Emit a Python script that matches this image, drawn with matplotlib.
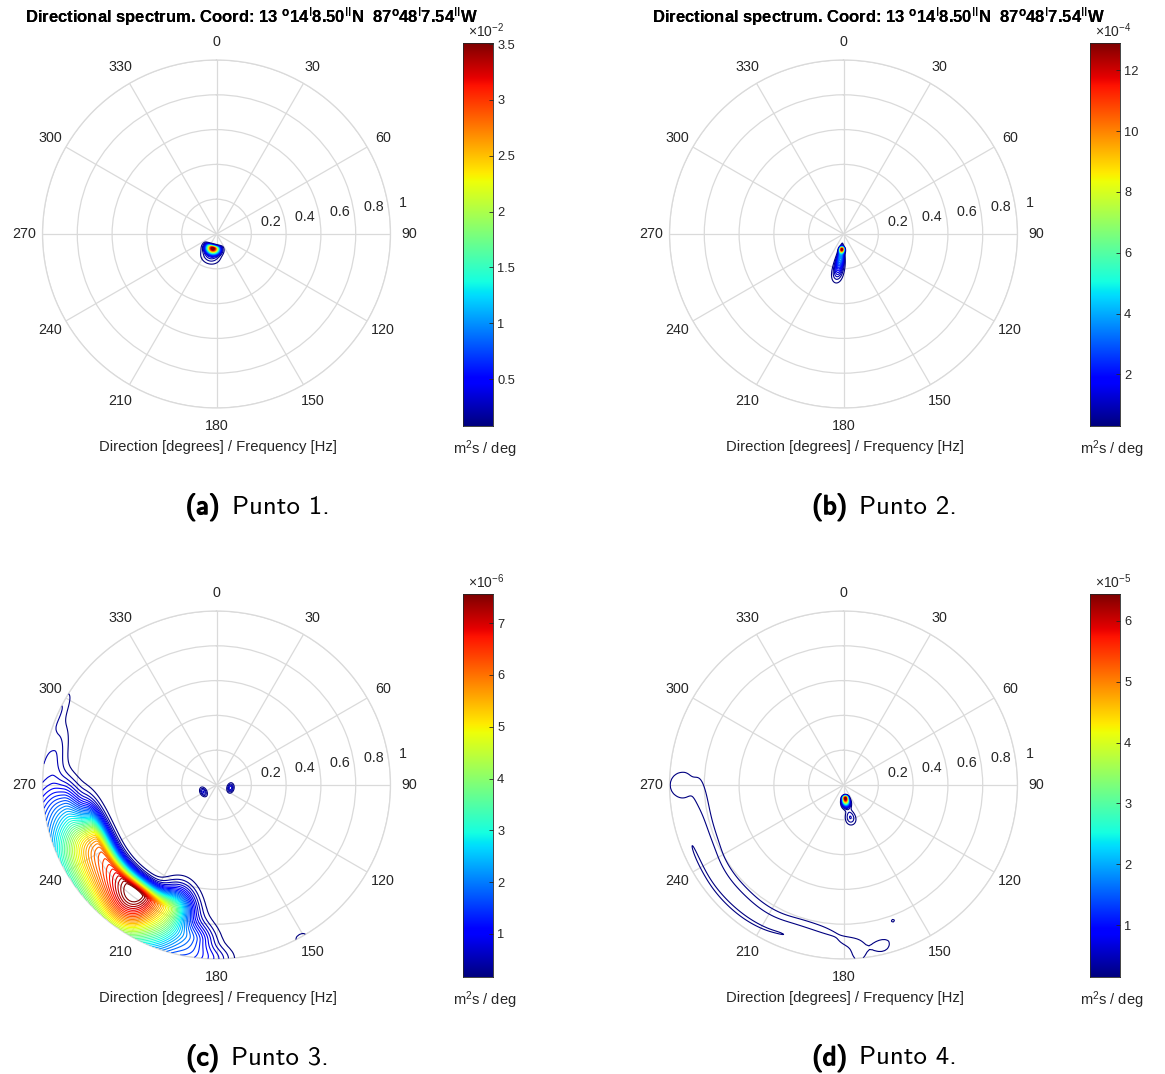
import os
import numpy as np
import matplotlib
matplotlib.use('Agg')
import matplotlib.pyplot as plt
from matplotlib.font_manager import FontProperties
import matplotlib.patheffects as pe
from matplotlib.colors import Normalize

plt.rcParams['font.family'] = ['Liberation Sans', 'DejaVu Sans']
plt.rcParams['mathtext.fontset'] = 'custom'
plt.rcParams['mathtext.rm'] = 'Liberation Sans'
plt.rcParams['mathtext.it'] = 'Liberation Sans:italic'
plt.rcParams['mathtext.bf'] = 'Liberation Sans:bold'

# ---------------- texts ----------------
TITLE = (r"Directional spectrum. Coord: 13 $^{\mathbf{o}}$14$^{\mathrm{I}}$8.50$^{\mathrm{II}}$N  "
         r"87$^{\mathbf{o}}$48$^{\mathrm{I}}$7.54$^{\mathrm{II}}$W")
XLABEL = "Direction [degrees] / Frequency [Hz]"
CBAR_LABEL = r"m$^2$s / deg"
PANEL_TAGS = ["(a)", "(b)", "(c)", "(d)"]
PANEL_NAMES = ["Punto 1.", "Punto 2.", "Punto 3.", "Punto 4."]

DIR_TICKS = [0, 30, 60, 90, 120, 150, 180, 210, 240, 270, 300, 330]
FREQ_TICKS = [0.2, 0.4, 0.6, 0.8, 1.0]
FREQ_TICK_LABELS = ["0.2", "0.4", "0.6", "0.8", "1"]

# colour bar ranges (in units of 10^exp), ticks and exponents
CBAR_MIN = [0.08, 0.3, 0.17, 0.15]
CBAR_MAX = [3.51, 12.9, 7.56, 6.44]
CBAR_EXP = [-2, -4, -6, -5]
CBAR_TICKS_1 = [0.5, 1, 1.5, 2, 2.5, 3, 3.5]
CBAR_TICKS_2 = [2, 4, 6, 8, 10, 12]
CBAR_TICKS_3 = [1, 2, 3, 4, 5, 6, 7]
CBAR_TICKS_4 = [1, 2, 3, 4, 5, 6]
CBAR_TICKLABELS_1 = ["0.5", "1", "1.5", "2", "2.5", "3", "3.5"]
CBAR_TICKLABELS_2 = ["2", "4", "6", "8", "10", "12"]
CBAR_TICKLABELS_3 = ["1", "2", "3", "4", "5", "6", "7"]
CBAR_TICKLABELS_4 = ["1", "2", "3", "4", "5", "6"]
N_LEVELS = 45

# ---------------- spectral peaks ----------------
# direction [deg], frequency [Hz], energy, direction spread, freq spread below, freq spread above
P1_DIR = [194, 195]
P1_FREQ = [0.085, 0.12]
P1_AMP = [3.5, 0.3]
P1_DSPR = [15, 16]
P1_FLOW = [0.009, 0.03]
P1_FHIGH = [0.018, 0.035]

P2_DIR = [186, 187, 189]
P2_FREQ = [0.088, 0.12, 0.2]
P2_AMP = [11.0, 3.5, 1.2]
P2_DSPR = [5, 5, 5]
P2_FLOW = [0.008, 0.03, 0.05]
P2_FHIGH = [0.012, 0.05, 0.05]

P3_DIR = [246, 230, 214, 199, 262, 280, 296, 188, 180, 242, 102, 151]
P3_FREQ = [0.76, 0.77, 0.77, 0.74, 0.88, 0.95, 1.0, 0.90, 1.0, 0.085, 0.082, 1.0]
P3_AMP = [4.6, 4.5, 6.6, 2.5, 1.2, 0.5, 0.3, 1.2, 0.45, 0.7, 0.8, 0.25]
P3_DSPR = [9, 9, 9, 6, 7, 8, 5, 5, 4, 12, 12, 2]
P3_FLOW = [0.05, 0.05, 0.05, 0.08, 0.06, 0.05, 0.03, 0.07, 0.05, 0.012, 0.012, 0.02]
P3_FHIGH = [0.2, 0.2, 0.22, 0.2, 0.15, 0.1, 0.1, 0.2, 0.1, 0.012, 0.012, 0.02]

P4_DIR = [172, 168, 266, 262, 254, 246, 238, 230, 222, 214, 206, 198, 190, 184, 179, 270, 175,
          166, 248, 240, 232, 224, 216, 208, 201, 160]
P4_FREQ = [0.076, 0.19, 0.83, 0.80, 0.80, 0.80, 0.82, 0.83, 0.83, 0.84, 0.84, 0.82, 0.83, 0.86,
           0.90, 0.92, 0.96, 0.94, 0.935, 0.94, 0.95, 0.95, 0.95, 0.94, 0.92, 0.83]
P4_AMP = [6.7, 0.45, 0.11, 0.105, 0.105, 0.105, 0.105, 0.105, 0.105, 0.105, 0.105, 0.105, 0.105,
          0.105, 0.11, 0.2, 0.17, 0.19, 0.11, 0.1, 0.1, 0.1, 0.1, 0.1, 0.12, 0.17]
P4_DSPR = [7, 6, 6, 6, 6, 6, 6, 6, 6, 6, 6, 6, 6, 6, 5, 6, 4, 3, 6, 6, 6, 6, 6, 6, 6, 1.5]
P4_FLOW = [0.008, 0.03, 0.025, 0.025, 0.025, 0.025, 0.025, 0.025, 0.025, 0.025, 0.025, 0.025,
           0.025, 0.025, 0.025, 0.07, 0.05, 0.03, 0.015, 0.015, 0.015, 0.015, 0.015, 0.015, 0.015,
           0.015]
P4_FHIGH = [0.025, 0.03, 0.025, 0.025, 0.025, 0.025, 0.025, 0.025, 0.025, 0.025, 0.025, 0.025,
            0.025, 0.025, 0.025, 0.1, 0.1, 0.05, 0.015, 0.015, 0.015, 0.015, 0.015, 0.015, 0.015,
            0.015]

PANELS = [
    (P1_DIR, P1_FREQ, P1_AMP, P1_DSPR, P1_FLOW, P1_FHIGH),
    (P2_DIR, P2_FREQ, P2_AMP, P2_DSPR, P2_FLOW, P2_FHIGH),
    (P3_DIR, P3_FREQ, P3_AMP, P3_DSPR, P3_FLOW, P3_FHIGH),
    (P4_DIR, P4_FREQ, P4_AMP, P4_DSPR, P4_FLOW, P4_FHIGH),
]
CBAR_TICKS = [CBAR_TICKS_1, CBAR_TICKS_2, CBAR_TICKS_3, CBAR_TICKS_4]
CBAR_TICKLABELS = [CBAR_TICKLABELS_1, CBAR_TICKLABELS_2, CBAR_TICKLABELS_3, CBAR_TICKLABELS_4]

# ---------------- grid of the spectrum ----------------
theta_deg = np.arange(0.0, 361.0, 1.0)
freq = np.linspace(0.0, 1.0, 401)
TH, FR = np.meshgrid(theta_deg, freq)


def spectrum(dirs, freqs, amps, dspr, flow, fhigh):
    Z = np.zeros_like(TH)
    for d, f, a, sd, sl, sh in zip(dirs, freqs, amps, dspr, flow, fhigh):
        dd = (TH - d + 180.0) % 360.0 - 180.0
        sf = np.where(FR < f, sl, sh)
        Z += a * np.exp(-0.5 * (dd / sd) ** 2 - 0.5 * ((FR - f) / sf) ** 2)
    return Z


# ---------------- figure ----------------
W, H = 1165, 1074
fig = plt.figure(figsize=(W / 100, H / 100), dpi=100)
fig.patch.set_facecolor('white')

GRID = '#dadada'
TXT = '#262626'
R_PX = 174.0
CENTERS = [(216.5, 234.0), (843.5, 234.0), (216.5, 785.0), (843.5, 785.0)]

cm_path = os.path.join(matplotlib.get_data_path(), 'fonts', 'ttf', 'cmss10.ttf')
cap_fp = FontProperties(fname=cm_path, size=19.3)
jet = plt.get_cmap('jet')

for i, (cx, cy) in enumerate(CENTERS):
    vmin, vmax = CBAR_MIN[i], CBAR_MAX[i]
    ax = fig.add_axes([(cx - R_PX) / W, 1 - (cy + R_PX) / H, 2 * R_PX / W, 2 * R_PX / H],
                      projection='polar')
    ax.set_theta_zero_location('N')
    ax.set_theta_direction(-1)
    ax.set_thetagrids(DIR_TICKS, labels=[''] * len(DIR_TICKS))
    ax.set_rgrids(FREQ_TICKS, labels=[''] * len(FREQ_TICKS))
    ax.set_ylim(0, 1)
    ax.grid(True, color=GRID, lw=0.9)
    ax.spines['polar'].set_color(GRID)
    ax.spines['polar'].set_linewidth(0.9)
    ax.tick_params(length=0, pad=0)

    Z = spectrum(*PANELS[i])
    levels = np.linspace(vmin, vmax, N_LEVELS)
    ax.contour(np.deg2rad(TH), FR, Z, levels=levels, cmap='jet',
               norm=Normalize(vmin, vmax), linewidths=0.8, zorder=3)
    ax.set_ylim(0, 1)

    for t in DIR_TICKS:
        ax.text(np.deg2rad(t), 1.105, str(t), ha='center', va='center',
                fontsize=10.3, color=TXT, clip_on=False)
    for r, lab in zip(FREQ_TICKS, FREQ_TICK_LABELS):
        ax.text(np.deg2rad(82), r + 0.01, '  ' + lab, ha='left', va='bottom',
                fontsize=10.3, color=TXT, clip_on=False)

    # title and axis label
    fig.text((cx + 35) / W, 1 - 17 / H, TITLE, ha='center', va='center',
             fontsize=12, fontweight='bold', color='black')
    fig.text((cx + 1.5) / W, 1 - (cy + 213) / H, XLABEL, ha='center', va='center',
             fontsize=10.7, color=TXT)

    # colour bar
    cbx = cx + 246.5
    cax = fig.add_axes([cbx / W, 1 - (cy + 192) / H, 30 / W, 383 / H])
    cax.set_facecolor(jet(0.0))
    grad = np.linspace(vmin, vmax, 256)[:, None]
    cax.imshow(grad, cmap='jet', norm=Normalize(vmin, vmax), aspect='auto',
               origin='lower', extent=[0, 1, vmin, vmax], interpolation='bilinear')
    cax.set_xlim(0, 1)
    cax.set_ylim(vmin, vmax)
    cax.set_xticks([])
    cax.yaxis.tick_right()
    cax.set_yticks(CBAR_TICKS[i])
    cax.set_yticklabels(CBAR_TICKLABELS[i])
    cax.tick_params(axis='y', direction='in', length=3, width=0.6, labelsize=9.3,
                    colors=TXT, pad=3)
    for sp in cax.spines.values():
        sp.set_edgecolor(TXT)
        sp.set_linewidth(0.6)
    fig.text((cbx + 23) / W, 1 - (cy - 203) / H, r'$\times10^{%d}$' % CBAR_EXP[i],
             ha='center', va='center', fontsize=10, color=TXT)
    fig.text((cbx + 22) / W, 1 - (cy + 215) / H, CBAR_LABEL, ha='center', va='center',
             fontsize=10.5, color=TXT)

fig.canvas.draw()
renderer = fig.canvas.get_renderer()
for i, (cx, cy) in enumerate(CENTERS):
    ycap = 1 - (cy + 273) / H
    t1 = fig.text(0, ycap, PANEL_TAGS[i], fontproperties=cap_fp, ha='left', va='center',
                  color='black', path_effects=[pe.withStroke(linewidth=1.1, foreground='black')])
    t2 = fig.text(0, ycap, PANEL_NAMES[i], fontproperties=cap_fp, ha='left', va='center',
                  color='black')
    w1 = t1.get_window_extent(renderer).width
    w2 = t2.get_window_extent(renderer).width
    gap = 12.0
    total = w1 + gap + w2
    x0 = cx + 41 - total / 2
    t1.set_x(x0 / W)
    t2.set_x((x0 + w1 + gap) / W)

fig.savefig('out.png', dpi=100, facecolor='white')
